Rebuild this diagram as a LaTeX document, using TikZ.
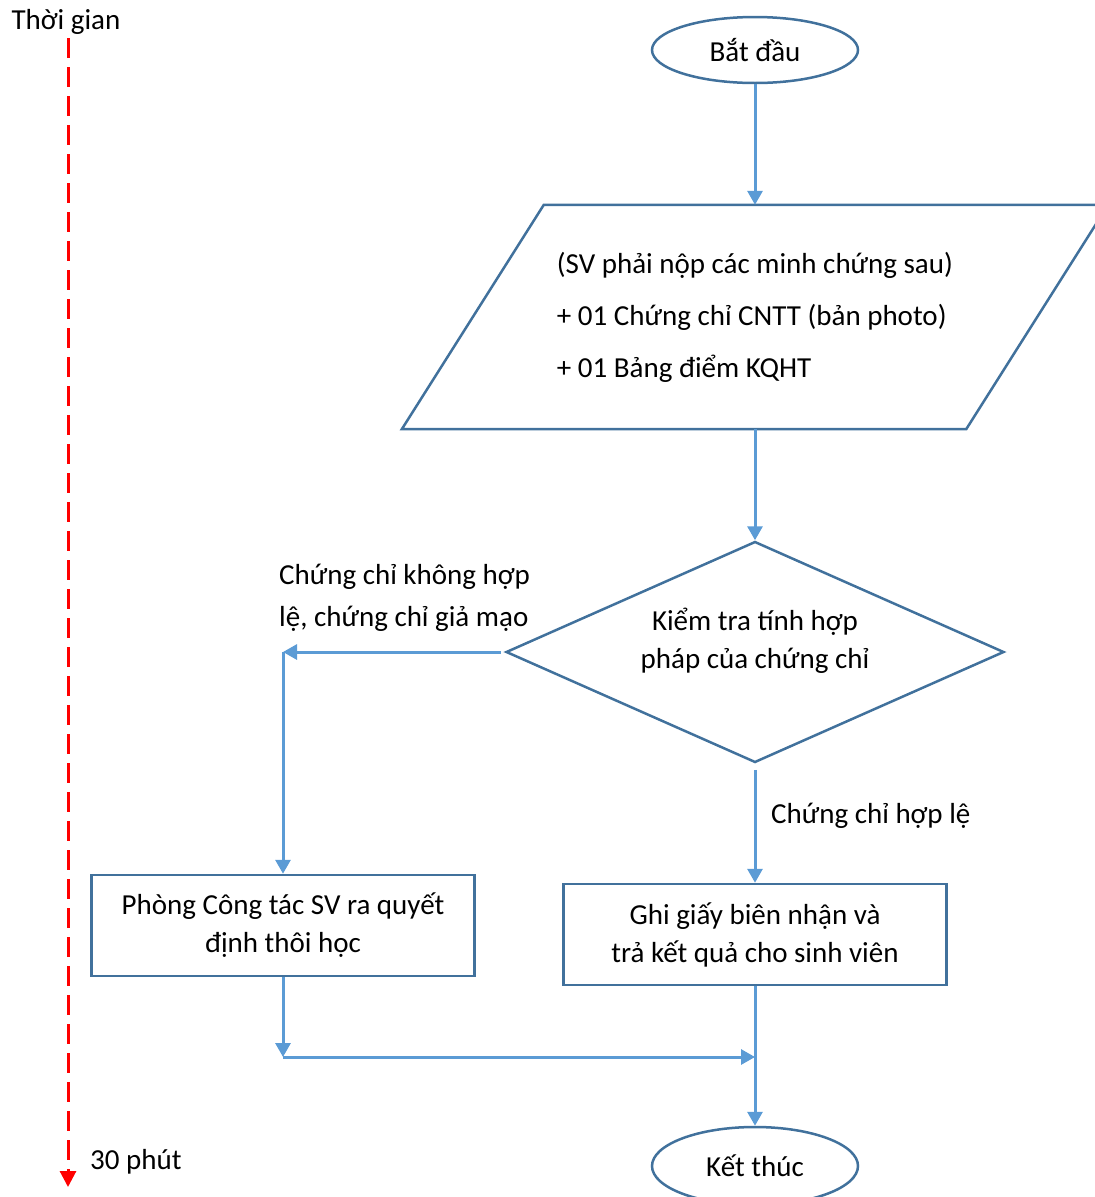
\documentclass[tikz,border=0pt]{standalone}
\usepackage{fontspec}
\setmainfont{Carlito}
\usetikzlibrary{arrows.meta,shapes.geometric}
\definecolor{shapeblue}{HTML}{41719C}
\definecolor{flowblue}{HTML}{5B9BD5}

\begin{document}
\begin{tikzpicture}[x=1pt,y=-1pt,>={Triangle[length=14pt,width=15pt]},
                    font=\fontsize{29}{38}\selectfont,
                    term node/.style={ellipse,draw=shapeblue,line width=2.5pt,minimum width=206pt,minimum height=66pt,inner sep=0pt},
                    box node/.style={rectangle,draw=shapeblue,line width=2.5pt,minimum width=383pt,minimum height=101pt,align=center,inner sep=0pt},
                    note node/.style={align=left,inner sep=0pt},
                    flow/.style={->,draw=flowblue,line width=3pt},
                    timeline/.style={-{Triangle[length=16pt,width=16pt]},draw=red,line width=3pt,dash pattern=on 20pt off 9pt}]
\clip (0,0) rectangle (1095,1197);

% time axis
\coordinate (tstart) at (68,38);
\coordinate (tstop) at (68,1187);
\draw[timeline] (tstart) -- (tstop);
\node (timelbl) at (66,22) {Thời gian};
\node[note node,anchor=west] (timeend) at (90,1162) {30 phút};

% main column
\node[term node] (start) at (755,50) {Bắt đầu};
\node[note node,minimum width=564pt,minimum height=224pt,
      font=\fontsize{29}{52}\selectfont] (inp) at (755,317)
  {(SV phải nộp các minh chứng sau)\\+ 01 Chứng chỉ CNTT (bản photo)\\+ 01 Bảng điểm KQHT};
\draw[shapeblue,line width=2.5pt] ([xshift=-71pt]inp.south west) -- ([xshift=-71pt]inp.south east)
  -- ([xshift=71pt]inp.north east) -- ([xshift=71pt]inp.north west) -- cycle;
\node[diamond,draw=shapeblue,line width=2.5pt,minimum width=498pt,minimum height=221pt,inner sep=0pt] (dia) at (755,652) {};
\node[align=center,inner sep=0pt] (diatext) at ([yshift=11pt]dia.center) {Kiểm tra tính hợp\\pháp của chứng chỉ};
\node[box node] (rej) at (283,925.5) {Phòng Công tác SV ra quyết\\định thôi học};
\node[box node] (ok) at (755,934.5) {Ghi giấy biên nhận và\\trả kết quả cho sinh viên};
\node[term node,minimum height=78pt] (end) at (755,1166) {Kết thúc};

\coordinate (lturn) at (283,652);
\coordinate (ljoin) at (283,1057);
\coordinate (rjoin) at (755,1057);

% branch labels
\node[note node,anchor=west,font=\fontsize{29}{42}\selectfont] (badlbl) at (279,598) {Chứng chỉ không hợp\\lệ, chứng chỉ giả mạo};
\node[note node,anchor=west] (goodlbl) at (771,816) {Chứng chỉ hợp lệ};

\draw[flow] (start) -- (inp);
\draw[flow] (inp) -- (dia);
\draw[flow,shorten <=4pt] (dia.west) -- (lturn);
\draw[flow] (lturn) -- (rej);
\draw[flow,shorten <=6pt] (dia) -- (ok);
\draw[flow] (rej) -- (ljoin);
\draw[flow] (ljoin) -- (rjoin);
\draw[flow] (ok) -- (end);

\end{tikzpicture}
\end{document}
